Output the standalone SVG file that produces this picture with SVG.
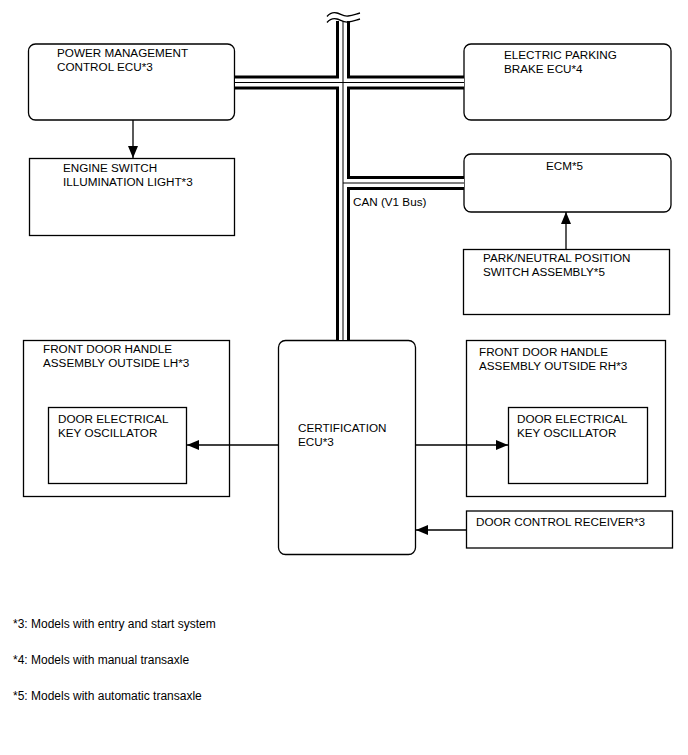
<svg xmlns="http://www.w3.org/2000/svg" width="688" height="755" viewBox="0 0 688 755">
<defs>
<style>
.box{fill:#fff;stroke:#000;stroke-width:1.3}
.t{font-family:"Liberation Sans",Arial,sans-serif;font-size:11.7px;fill:#000}
.fn{font-family:"Liberation Sans",Arial,sans-serif;font-size:12px;fill:#000}
.ln{fill:none;stroke:#000;stroke-width:1.3}
.busO{fill:none;stroke:#000;stroke-width:14;stroke-linejoin:miter}
.busW{fill:none;stroke:#fff;stroke-width:8;stroke-linejoin:miter}
.busC{fill:none;stroke:#000;stroke-width:1}
</style>
<marker id="ah" viewBox="0 0 12 10" refX="12" refY="5" markerWidth="12" markerHeight="10" markerUnits="userSpaceOnUse" orient="auto">
<path d="M0,0 L12,5 L0,10 z" fill="#000"/>
</marker>
</defs>
<rect width="688" height="755" fill="#fff"/>
<g id="pm-ecu">
<rect class="box" x="28.5" y="44" width="206" height="76" rx="7"/>
<text class="t" x="57" y="57">POWER MANAGEMENT</text>
<text class="t" x="57" y="71">CONTROL ECU*3</text>
</g>
<g id="engine-switch">
<rect class="box" x="29.5" y="158.5" width="205" height="77"/>
<text class="t" x="63" y="172">ENGINE SWITCH</text>
<text class="t" x="63" y="186">ILLUMINATION LIGHT*3</text>
</g>
<g id="epb-ecu">
<rect class="box" x="464" y="44" width="207" height="76" rx="7"/>
<text class="t" x="504" y="58.5">ELECTRIC PARKING</text>
<text class="t" x="504" y="72.5">BRAKE ECU*4</text>
</g>
<g id="ecm">
<rect class="box" x="464" y="154" width="207" height="58" rx="7"/>
<text class="t" x="546" y="169.5">ECM*5</text>
</g>
<g id="pn-switch">
<rect class="box" x="463.5" y="249.5" width="206" height="65"/>
<text class="t" x="483" y="262">PARK/NEUTRAL POSITION</text>
<text class="t" x="483" y="275.5">SWITCH ASSEMBLY*5</text>
</g>
<g id="cert-ecu">
<rect class="box" x="278.5" y="340.5" width="137" height="214" rx="7"/>
<text class="t" x="298" y="432">CERTIFICATION</text>
<text class="t" x="298" y="446">ECU*3</text>
</g>
<g id="door-lh">
<rect class="box" x="23.5" y="340.5" width="206" height="156"/>
<text class="t" x="43" y="353">FRONT DOOR HANDLE</text>
<text class="t" x="43" y="367">ASSEMBLY OUTSIDE LH*3</text>
</g>
<g id="osc-lh">
<rect class="box" x="48.5" y="407.5" width="138" height="76"/>
<text class="t" x="58" y="423">DOOR ELECTRICAL</text>
<text class="t" x="58" y="436.5">KEY OSCILLATOR</text>
</g>
<g id="door-rh">
<rect class="box" x="466.5" y="340.5" width="199" height="156"/>
<text class="t" x="479" y="356">FRONT DOOR HANDLE</text>
<text class="t" x="479" y="369.5">ASSEMBLY OUTSIDE RH*3</text>
</g>
<g id="osc-rh">
<rect class="box" x="508.5" y="407.5" width="139" height="76"/>
<text class="t" x="517" y="423">DOOR ELECTRICAL</text>
<text class="t" x="517" y="436.5">KEY OSCILLATOR</text>
</g>
<g id="door-receiver">
<rect class="box" x="466.5" y="511" width="206" height="37"/>
<text class="t" x="476" y="526">DOOR CONTROL RECEIVER*3</text>
</g>
<g id="connectors">
<path class="busO" d="M343,21 V340 M235,82.5 H464 M343,183 H464"/>
<path class="busW" d="M343,21 V340 M235,82.5 H464 M343,183 H464"/>
<path class="busC" d="M343,21 V340 M235,82.5 H464 M343,183 H464"/>
<path class="ln" d="M327,16.5 C330,13 333,12 337,13 C341,14 343,16.5 348,16 C353,15.5 356,14 360,13"/>
<path class="ln" d="M327,22.5 C330,19 333,18 337,19 C341,20 343,22.5 348,22 C353,21.5 356,20 360,19"/>
<path class="ln" d="M133,120 V158" marker-end="url(#ah)"/>
<path class="ln" d="M566,249 V212" marker-end="url(#ah)"/>
<path class="ln" d="M278,445 H187" marker-end="url(#ah)"/>
<path class="ln" d="M416,445 H508" marker-end="url(#ah)"/>
<path class="ln" d="M466,530 H416" marker-end="url(#ah)"/>
<text class="t" x="353" y="206">CAN (V1 Bus)</text>
</g>
<g id="footnotes">
<text class="fn" x="13" y="627.5">*3: Models with entry and start system</text>
<text class="fn" x="13" y="663.5">*4: Models with manual transaxle</text>
<text class="fn" x="13" y="699.5">*5: Models with automatic transaxle</text>
</g>
</svg>
